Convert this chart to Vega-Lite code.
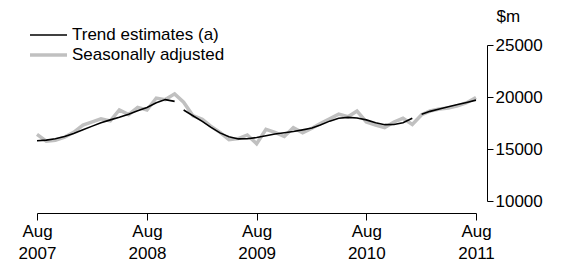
{
  "$schema": "https://vega.github.io/schema/vega-lite/v6.json",
  "width": 439,
  "height": 156,
  "autosize": {"type": "none"},
  "padding": {"left": 37, "top": 45, "right": 90, "bottom": 68},
  "background": "white",
  "config": {
    "view": {"stroke": null},
    "font": "Liberation Sans",
    "axis": {"labelFont": "Liberation Sans", "titleFont": "Liberation Sans", "labelColor": "#000", "titleColor": "#000", "domainColor": "#000", "tickColor": "#000", "grid": false},
    "legend": {"labelFont": "Liberation Sans", "labelColor": "#000"}
  },
  "data": {"values": [
    {"date": "2007-08-01", "series": "Seasonally adjusted", "seg": "s", "value": 16400},
    {"date": "2007-09-01", "series": "Seasonally adjusted", "seg": "s", "value": 15750},
    {"date": "2007-10-01", "series": "Seasonally adjusted", "seg": "s", "value": 15850},
    {"date": "2007-11-01", "series": "Seasonally adjusted", "seg": "s", "value": 16150},
    {"date": "2007-12-01", "series": "Seasonally adjusted", "seg": "s", "value": 16600},
    {"date": "2008-01-01", "series": "Seasonally adjusted", "seg": "s", "value": 17300},
    {"date": "2008-02-01", "series": "Seasonally adjusted", "seg": "s", "value": 17600},
    {"date": "2008-03-01", "series": "Seasonally adjusted", "seg": "s", "value": 17900},
    {"date": "2008-04-01", "series": "Seasonally adjusted", "seg": "s", "value": 17700},
    {"date": "2008-05-01", "series": "Seasonally adjusted", "seg": "s", "value": 18750},
    {"date": "2008-06-01", "series": "Seasonally adjusted", "seg": "s", "value": 18300},
    {"date": "2008-07-01", "series": "Seasonally adjusted", "seg": "s", "value": 19000},
    {"date": "2008-08-01", "series": "Seasonally adjusted", "seg": "s", "value": 18750},
    {"date": "2008-09-01", "series": "Seasonally adjusted", "seg": "s", "value": 19900},
    {"date": "2008-10-01", "series": "Seasonally adjusted", "seg": "s", "value": 19750},
    {"date": "2008-11-01", "series": "Seasonally adjusted", "seg": "s", "value": 20300},
    {"date": "2008-12-01", "series": "Seasonally adjusted", "seg": "s", "value": 19500},
    {"date": "2009-01-01", "series": "Seasonally adjusted", "seg": "s", "value": 18200},
    {"date": "2009-02-01", "series": "Seasonally adjusted", "seg": "s", "value": 17850},
    {"date": "2009-03-01", "series": "Seasonally adjusted", "seg": "s", "value": 17200},
    {"date": "2009-04-01", "series": "Seasonally adjusted", "seg": "s", "value": 16600},
    {"date": "2009-05-01", "series": "Seasonally adjusted", "seg": "s", "value": 15900},
    {"date": "2009-06-01", "series": "Seasonally adjusted", "seg": "s", "value": 16000},
    {"date": "2009-07-01", "series": "Seasonally adjusted", "seg": "s", "value": 16350},
    {"date": "2009-08-01", "series": "Seasonally adjusted", "seg": "s", "value": 15500},
    {"date": "2009-09-01", "series": "Seasonally adjusted", "seg": "s", "value": 16900},
    {"date": "2009-10-01", "series": "Seasonally adjusted", "seg": "s", "value": 16600},
    {"date": "2009-11-01", "series": "Seasonally adjusted", "seg": "s", "value": 16200},
    {"date": "2009-12-01", "series": "Seasonally adjusted", "seg": "s", "value": 17050},
    {"date": "2010-01-01", "series": "Seasonally adjusted", "seg": "s", "value": 16550},
    {"date": "2010-02-01", "series": "Seasonally adjusted", "seg": "s", "value": 17000},
    {"date": "2010-03-01", "series": "Seasonally adjusted", "seg": "s", "value": 17450},
    {"date": "2010-04-01", "series": "Seasonally adjusted", "seg": "s", "value": 17900},
    {"date": "2010-05-01", "series": "Seasonally adjusted", "seg": "s", "value": 18350},
    {"date": "2010-06-01", "series": "Seasonally adjusted", "seg": "s", "value": 18100},
    {"date": "2010-07-01", "series": "Seasonally adjusted", "seg": "s", "value": 18650},
    {"date": "2010-08-01", "series": "Seasonally adjusted", "seg": "s", "value": 17600},
    {"date": "2010-09-01", "series": "Seasonally adjusted", "seg": "s", "value": 17300},
    {"date": "2010-10-01", "series": "Seasonally adjusted", "seg": "s", "value": 17050},
    {"date": "2010-11-01", "series": "Seasonally adjusted", "seg": "s", "value": 17600},
    {"date": "2010-12-01", "series": "Seasonally adjusted", "seg": "s", "value": 17950},
    {"date": "2011-01-01", "series": "Seasonally adjusted", "seg": "s", "value": 17350},
    {"date": "2011-02-01", "series": "Seasonally adjusted", "seg": "s", "value": 18300},
    {"date": "2011-03-01", "series": "Seasonally adjusted", "seg": "s", "value": 18650},
    {"date": "2011-04-01", "series": "Seasonally adjusted", "seg": "s", "value": 18850},
    {"date": "2011-05-01", "series": "Seasonally adjusted", "seg": "s", "value": 18950},
    {"date": "2011-06-01", "series": "Seasonally adjusted", "seg": "s", "value": 19150},
    {"date": "2011-07-01", "series": "Seasonally adjusted", "seg": "s", "value": 19450},
    {"date": "2011-08-01", "series": "Seasonally adjusted", "seg": "s", "value": 19950},
    {"date": "2007-08-01", "series": "Trend estimates (a)", "seg": "a", "value": 15800},
    {"date": "2007-09-01", "series": "Trend estimates (a)", "seg": "a", "value": 15850},
    {"date": "2007-10-01", "series": "Trend estimates (a)", "seg": "a", "value": 15980},
    {"date": "2007-11-01", "series": "Trend estimates (a)", "seg": "a", "value": 16200},
    {"date": "2007-12-01", "series": "Trend estimates (a)", "seg": "a", "value": 16500},
    {"date": "2008-01-01", "series": "Trend estimates (a)", "seg": "a", "value": 16840},
    {"date": "2008-02-01", "series": "Trend estimates (a)", "seg": "a", "value": 17200},
    {"date": "2008-03-01", "series": "Trend estimates (a)", "seg": "a", "value": 17530},
    {"date": "2008-04-01", "series": "Trend estimates (a)", "seg": "a", "value": 17800},
    {"date": "2008-05-01", "series": "Trend estimates (a)", "seg": "a", "value": 18050},
    {"date": "2008-06-01", "series": "Trend estimates (a)", "seg": "a", "value": 18350},
    {"date": "2008-07-01", "series": "Trend estimates (a)", "seg": "a", "value": 18680},
    {"date": "2008-08-01", "series": "Trend estimates (a)", "seg": "a", "value": 19000},
    {"date": "2008-09-01", "series": "Trend estimates (a)", "seg": "a", "value": 19450},
    {"date": "2008-10-01", "series": "Trend estimates (a)", "seg": "a", "value": 19750},
    {"date": "2008-11-01", "series": "Trend estimates (a)", "seg": "a", "value": 19580},
    {"date": "2008-12-01", "series": "Trend estimates (a)", "seg": "b", "value": 18750},
    {"date": "2009-01-01", "series": "Trend estimates (a)", "seg": "b", "value": 18200},
    {"date": "2009-02-01", "series": "Trend estimates (a)", "seg": "b", "value": 17650},
    {"date": "2009-03-01", "series": "Trend estimates (a)", "seg": "b", "value": 17100},
    {"date": "2009-04-01", "series": "Trend estimates (a)", "seg": "b", "value": 16550},
    {"date": "2009-05-01", "series": "Trend estimates (a)", "seg": "b", "value": 16180},
    {"date": "2009-06-01", "series": "Trend estimates (a)", "seg": "b", "value": 15970},
    {"date": "2009-07-01", "series": "Trend estimates (a)", "seg": "b", "value": 15990},
    {"date": "2009-08-01", "series": "Trend estimates (a)", "seg": "b", "value": 16100},
    {"date": "2009-09-01", "series": "Trend estimates (a)", "seg": "b", "value": 16280},
    {"date": "2009-10-01", "series": "Trend estimates (a)", "seg": "b", "value": 16440},
    {"date": "2009-11-01", "series": "Trend estimates (a)", "seg": "b", "value": 16570},
    {"date": "2009-12-01", "series": "Trend estimates (a)", "seg": "b", "value": 16680},
    {"date": "2010-01-01", "series": "Trend estimates (a)", "seg": "b", "value": 16840},
    {"date": "2010-02-01", "series": "Trend estimates (a)", "seg": "b", "value": 17020},
    {"date": "2010-03-01", "series": "Trend estimates (a)", "seg": "b", "value": 17300},
    {"date": "2010-04-01", "series": "Trend estimates (a)", "seg": "b", "value": 17680},
    {"date": "2010-05-01", "series": "Trend estimates (a)", "seg": "b", "value": 17950},
    {"date": "2010-06-01", "series": "Trend estimates (a)", "seg": "b", "value": 18040},
    {"date": "2010-07-01", "series": "Trend estimates (a)", "seg": "b", "value": 17980},
    {"date": "2010-08-01", "series": "Trend estimates (a)", "seg": "b", "value": 17800},
    {"date": "2010-09-01", "series": "Trend estimates (a)", "seg": "b", "value": 17520},
    {"date": "2010-10-01", "series": "Trend estimates (a)", "seg": "b", "value": 17340},
    {"date": "2010-11-01", "series": "Trend estimates (a)", "seg": "b", "value": 17350},
    {"date": "2010-12-01", "series": "Trend estimates (a)", "seg": "b", "value": 17520},
    {"date": "2011-01-01", "series": "Trend estimates (a)", "seg": "b", "value": 17950},
    {"date": "2011-02-01", "series": "Trend estimates (a)", "seg": "c", "value": 18340},
    {"date": "2011-03-01", "series": "Trend estimates (a)", "seg": "c", "value": 18620},
    {"date": "2011-04-01", "series": "Trend estimates (a)", "seg": "c", "value": 18850},
    {"date": "2011-05-01", "series": "Trend estimates (a)", "seg": "c", "value": 19060},
    {"date": "2011-06-01", "series": "Trend estimates (a)", "seg": "c", "value": 19270},
    {"date": "2011-07-01", "series": "Trend estimates (a)", "seg": "c", "value": 19480},
    {"date": "2011-08-01", "series": "Trend estimates (a)", "seg": "c", "value": 19700}
  ]},
  "encoding": {
    "x": {
      "field": "date", "type": "temporal",
      "scale": {"type": "utc", "domain": [{"year": 2007, "month": 8, "date": 1, "utc": true}, {"year": 2011, "month": 8, "date": 1, "utc": true}]},
      "axis": {
        "title": null, "orient": "bottom", "offset": 12,
        "values": [{"year": 2007, "month": 8, "date": 1, "utc": true}, {"year": 2008, "month": 8, "date": 1, "utc": true}, {"year": 2009, "month": 8, "date": 1, "utc": true}, {"year": 2010, "month": 8, "date": 1, "utc": true}, {"year": 2011, "month": 8, "date": 1, "utc": true}],
        "labelExpr": "[utcFormat(datum.value, '%b'), utcFormat(datum.value, '%Y')]",
        "labelFontSize": 17, "labelLineHeight": 22, "labelPadding": 3, "tickSize": 7, "labelFlush": false, "labelOverlap": false
      }
    },
    "y": {
      "field": "value", "type": "quantitative",
      "scale": {"domain": [10000, 25000], "nice": false, "zero": false},
      "axis": {
        "orient": "right", "offset": 11, "values": [10000, 15000, 20000, 25000],
        "format": "d", "labelFontSize": 17, "tickSize": 6, "labelPadding": 2,
        "title": "$m", "titleAngle": 0, "titleFontSize": 17, "titleFontWeight": "normal",
        "titleAlign": "left", "titleBaseline": "alphabetic", "titleX": 9, "titleY": -24
      }
    },
    "color": {
      "field": "series", "type": "nominal",
      "scale": {"domain": ["Trend estimates (a)", "Seasonally adjusted"], "range": ["#000000", "#c0c0c0"]},
      "legend": {
        "title": null, "orient": "none", "legendX": -9, "legendY": -20,
        "symbolType": "stroke", "symbolSize": 1369, "clipHeight": 20, "labelFontSize": 17, "rowPadding": 0, "labelOffset": 3
      }
    },
    "strokeWidth": {
      "field": "series", "type": "nominal",
      "scale": {"domain": ["Trend estimates (a)", "Seasonally adjusted"], "range": [1.6, 3.5]},
      "legend": null
    },
    "detail": {"field": "seg"}
  },
  "layer": [
    {"transform": [{"filter": "datum.series === 'Seasonally adjusted'"}], "mark": {"type": "line"}},
    {"transform": [{"filter": "datum.series === 'Trend estimates (a)'"}], "mark": {"type": "line"}}
  ]
}
